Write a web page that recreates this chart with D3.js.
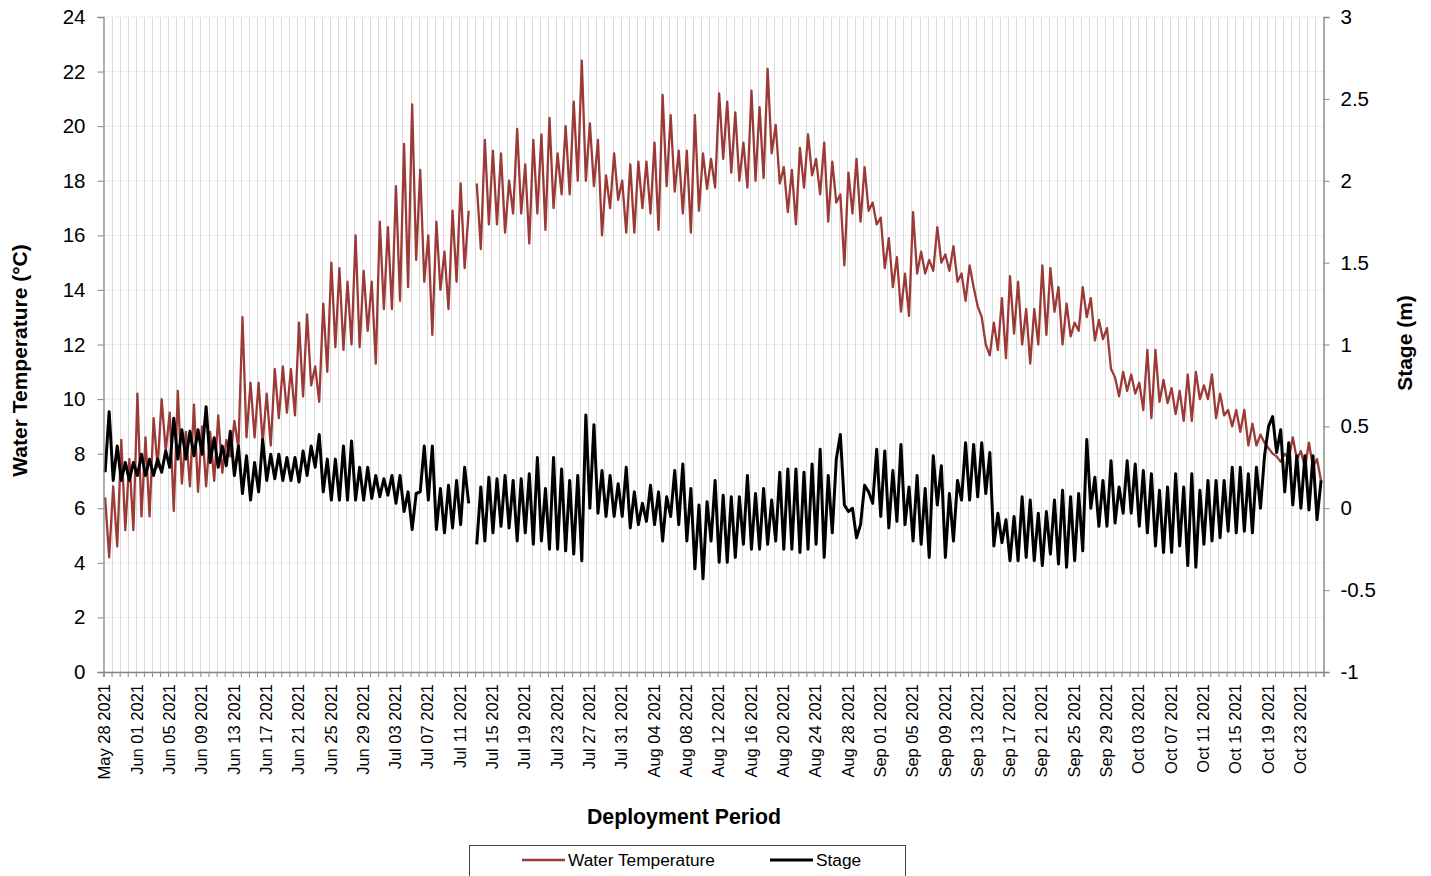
<!DOCTYPE html>
<html><head><meta charset="utf-8">
<script src="https://cdn.jsdelivr.net/npm/d3@7"></script>
<style>
body{margin:0;background:#fff;}
text{font-family:"Liberation Sans",Arial,sans-serif;fill:#000;}
</style></head>
<body><svg id="c" width="1431" height="876"></svg>
<script>
// Deployment start and end (daily categories)
const startDay = "2021-05-28";
const endDay = "2021-10-26";
// Water temperature (°C): first reading of each day (~05h) and second (~17h)
const tempFirst = [6.4,6.8,8.5,7.8,10.2,8.6,9.3,10.0,9.5,10.3,8.8,9.8,9.0,8.8,9.4,8.5,9.2,13.0,10.6,10.6,10.2,11.1,11.2,11.1,12.8,13.1,11.2,13.5,15.0,14.8,14.3,16.0,14.7,14.3,16.5,16.3,17.8,19.35,20.8,18.4,16.0,16.5,15.4,16.9,17.9,16.9,17.9,19.5,19.1,19.0,18.0,19.9,18.6,19.5,19.7,20.3,19.0,20.0,20.9,22.4,20.1,19.5,18.2,19.0,18.0,18.6,18.7,18.7,19.4,21.15,20.4,19.1,19.1,20.4,19.0,18.8,21.2,20.9,20.5,19.4,21.3,20.7,22.1,20.05,18.5,18.4,19.2,19.7,18.8,19.4,18.7,17.5,18.3,18.8,18.5,17.2,16.65,15.9,15.2,14.6,16.85,15.4,15.1,16.3,15.3,15.6,14.6,14.9,13.4,12.0,12.8,13.7,14.5,14.3,13.3,13.3,14.9,14.8,14.1,13.5,12.8,14.1,13.7,12.9,12.6,10.8,11.0,10.9,10.6,11.8,11.8,10.7,10.4,10.3,10.9,11.0,10.5,10.9,10.2,9.6,9.6,9.6,9.1,8.7,8.2,7.9,8.0,8.6,8.1,8.4,7.8];
const tempSecond = [4.2,4.6,5.2,5.2,5.7,5.7,7.5,8.1,5.9,6.9,6.8,6.6,6.8,7.0,7.3,7.9,8.2,8.6,8.6,8.4,8.3,9.3,9.5,9.4,10.1,10.5,9.9,11.0,11.9,11.8,12.0,11.9,12.5,11.3,13.3,13.3,13.6,14.1,15.1,14.3,12.35,14.0,13.3,14.3,14.8,null,15.5,16.4,16.4,16.1,16.8,16.8,15.7,16.8,16.2,17.0,17.5,17.5,18.0,18.0,17.8,16.0,17.0,17.3,16.1,16.1,17.0,16.8,16.2,17.8,17.6,16.8,16.1,16.9,17.7,17.75,18.8,18.3,18.0,17.75,18.0,18.1,19.0,17.9,16.85,16.4,17.75,18.2,17.5,16.5,17.2,14.9,16.8,16.5,16.9,16.4,14.8,14.1,13.2,13.05,14.6,14.6,14.7,15.0,14.7,14.3,13.6,14.1,13.0,11.6,11.8,11.5,12.4,12.0,11.3,12.0,12.35,13.2,12.0,12.3,12.5,13.0,12.15,12.2,11.1,10.1,10.3,10.2,9.6,9.3,9.9,9.85,9.45,9.2,9.2,10.0,10.0,9.3,9.4,9.0,8.8,8.3,8.3,8.4,8.0,7.7,7.8,7.8,7.5,7.5,7.0];
// Stage (m): first reading (~05h) and second (~17h) of each day
const stageFirst = [0.22,0.17,0.17,0.17,0.2,0.2,0.2,0.22,0.25,0.3,0.3,0.32,0.33,0.28,0.25,0.26,0.2,0.09,0.05,0.1,0.17,0.18,0.17,0.17,0.16,0.2,0.25,0.1,0.05,0.05,0.05,0.05,0.05,0.06,0.07,0.08,0.03,-0.02,-0.13,0.1,0.05,-0.13,-0.15,-0.12,-0.1,0.03,-0.22,-0.2,-0.15,-0.11,-0.12,-0.2,-0.15,-0.22,-0.2,-0.25,-0.25,-0.26,-0.28,-0.32,0.0,-0.03,-0.05,-0.05,-0.05,-0.12,-0.1,-0.08,-0.1,-0.2,-0.05,-0.1,-0.2,-0.37,-0.43,-0.2,-0.33,-0.33,-0.3,-0.22,-0.25,-0.25,-0.22,-0.2,-0.25,-0.25,-0.27,-0.25,-0.22,-0.3,-0.15,0.45,-0.02,-0.18,0.14,0.03,-0.05,-0.12,-0.08,-0.1,-0.2,-0.22,-0.3,0.02,-0.3,-0.2,0.05,0.05,0.07,0.09,-0.23,-0.21,-0.32,-0.32,-0.3,-0.32,-0.35,-0.28,-0.34,-0.36,-0.32,-0.26,0.0,-0.11,-0.11,-0.09,-0.03,-0.03,-0.11,-0.15,-0.23,-0.27,-0.27,-0.23,-0.35,-0.36,-0.22,-0.2,-0.18,-0.14,-0.15,-0.14,-0.15,0.0,0.5,0.34,0.1,0.02,0.0,-0.01,-0.07];
const stageSecond = [0.59,0.38,0.28,0.28,0.33,0.3,0.3,0.35,0.55,0.48,0.47,0.48,0.62,0.43,0.38,0.47,0.38,0.32,0.28,0.42,0.33,0.33,0.31,0.31,0.35,0.38,0.45,0.3,0.3,0.38,0.41,0.25,0.25,0.2,0.18,0.2,0.2,0.1,0.09,0.38,0.38,0.12,0.14,0.17,0.25,null,0.13,0.19,0.18,0.2,0.17,0.18,0.21,0.31,0.12,0.31,0.24,0.17,0.2,0.57,0.51,0.23,0.2,0.15,0.25,0.1,0.03,0.14,0.1,0.07,0.23,0.27,0.12,0.02,0.04,0.17,0.08,0.07,0.07,0.2,0.09,0.12,0.05,0.22,0.24,0.24,0.22,0.27,0.36,0.2,0.3,0.02,0.0,-0.1,0.1,0.36,0.35,0.23,0.39,0.13,0.2,0.12,0.32,0.26,0.09,0.17,0.4,0.39,0.4,0.34,-0.03,-0.07,-0.05,0.07,0.05,-0.03,-0.02,0.05,0.11,0.07,0.09,0.42,0.19,0.17,0.29,0.13,0.29,0.27,0.23,0.21,0.11,0.13,0.21,0.13,0.21,0.11,0.17,0.17,0.17,0.25,0.25,0.21,0.25,0.32,0.56,0.48,0.4,0.32,0.32,0.32,0.17];
// Axis ticks
const tempTicks = [0,2,4,6,8,10,12,14,16,18,20,22,24];
const stageTicks = [-1,-0.5,0,0.5,1,1.5,2,2.5,3];
const labelEveryDays = 4;

const svg = d3.select("#c");
const L = 103.5, R = 1323.5, T = 17, B = 672;
const parse = d3.timeParse("%Y-%m-%d");
const t0 = parse(startDay), t1 = parse(endDay);
const x = d3.scaleTime().domain([t0, t1]).range([L, R]);
const yT = d3.scaleLinear().domain([0, 24]).range([B, T]);
const yS = d3.scaleLinear().domain([-1, 3]).range([B, T]);

const days = d3.timeDay.range(t0, t1);
const ptsFrom = (a, b) => {
  const out = [];
  days.forEach((d, i) => {
    if (i < a.length) {
      out.push({t: d3.timeMinute.offset(d, 288), v: a[i]});
      out.push({t: d3.timeMinute.offset(d, 1008), v: b[i]});
    }
  });
  return out;
};
const tempPts = ptsFrom(tempFirst, tempSecond);
const stagePts = ptsFrom(stageFirst, stageSecond);

// horizontal grid
svg.append("g").selectAll("line").data(tempTicks).join("line")
  .attr("x1", L).attr("x2", R).attr("y1", d => yT(d)).attr("y2", d => yT(d))
  .attr("stroke", "#ececec").attr("stroke-width", 1);
// vertical daily grid
svg.append("g").selectAll("line").data(days.slice(1).concat([t1])).join("line")
  .attr("x1", d => Math.round(x(d)) + 0.5).attr("x2", d => Math.round(x(d)) + 0.5)
  .attr("y1", T).attr("y2", B)
  .attr("stroke", "#d9d9d9").attr("stroke-width", 1);

// lines
const lineT = d3.line().defined(d => d.v != null).x(d => x(d.t)).y(d => yT(d.v));
const lineS = d3.line().defined(d => d.v != null).x(d => x(d.t)).y(d => yS(d.v));
svg.append("path").datum(tempPts).attr("d", lineT).attr("fill", "none")
  .attr("stroke", "#9b3a36").attr("stroke-width", 2.3).attr("stroke-linejoin", "round");
svg.append("path").datum(stagePts).attr("d", lineS).attr("fill", "none")
  .attr("stroke", "#000").attr("stroke-width", 3).attr("stroke-linejoin", "round");

// axes
const axisColor = "#868686";
const gl = svg.append("g").attr("transform", `translate(${L},0)`)
  .call(d3.axisLeft(yT).tickValues(tempTicks).tickSize(6).tickPadding(12));
const gr = svg.append("g").attr("transform", `translate(${R},0)`)
  .call(d3.axisRight(yS).tickValues(stageTicks).tickSize(6).tickPadding(11).tickFormat(d => String(d)));
const gb = svg.append("g").attr("transform", `translate(0,${B})`)
  .call(d3.axisBottom(x).tickValues(days.concat([t1])).tickSize(5).tickFormat(""));
[gl, gr, gb].forEach(g => {
  g.select(".domain").attr("stroke", axisColor).attr("stroke-width", 1.3);
  g.selectAll(".tick line").attr("stroke", axisColor);
  g.selectAll("text").style("font-family", "Liberation Sans, Arial, sans-serif").attr("fill", "#000");
});
gl.selectAll("text").style("font-size", "20.5px");
gr.selectAll("text").style("font-size", "20.5px");

// x tick labels every 4 days
const fmt = d3.timeFormat("%b %d %Y");
const labelDays = days.filter((d, i) => i % labelEveryDays === 0);
svg.append("g").selectAll("text").data(labelDays).join("text")
  .attr("transform", d => `translate(${x(d) + 1},${B + 12}) rotate(-90)`)
  .attr("text-anchor", "end").attr("dy", "0.35em")
  .style("font-size", "16.5px").text(fmt);

// axis titles
svg.append("text").attr("transform", `translate(27,${(T + B) / 2 + 16}) rotate(-90)`)
  .attr("text-anchor", "middle").style("font-size", "21px").style("font-weight", "bold")
  .text("Water Temperature (°C)");
svg.append("text").attr("transform", `translate(1412,${343}) rotate(-90)`)
  .attr("text-anchor", "middle").style("font-size", "21px").style("font-weight", "bold")
  .text("Stage (m)");
svg.append("text").attr("x", 684).attr("y", 824).attr("text-anchor", "middle")
  .style("font-size", "21.3px").style("font-weight", "bold").text("Deployment Period");

// legend
const lg = svg.append("g");
lg.append("rect").attr("x", 469.5).attr("y", 845.5).attr("width", 436).attr("height", 36)
  .attr("fill", "#fff").attr("stroke", "#444").attr("stroke-width", 1);
const items = [{name: "Water Temperature", color: "#9b3a36", w: 2.3, x: 522}, {name: "Stage", color: "#000", w: 3, x: 770}];
items.forEach(it => {
  lg.append("line").attr("x1", it.x).attr("x2", it.x + 43).attr("y1", 860).attr("y2", 860)
    .attr("stroke", it.color).attr("stroke-width", it.w);
  lg.append("text").attr("x", it.x + 46).attr("y", 866).style("font-size", "17.3px").text(it.name);
});
</script></body></html>
